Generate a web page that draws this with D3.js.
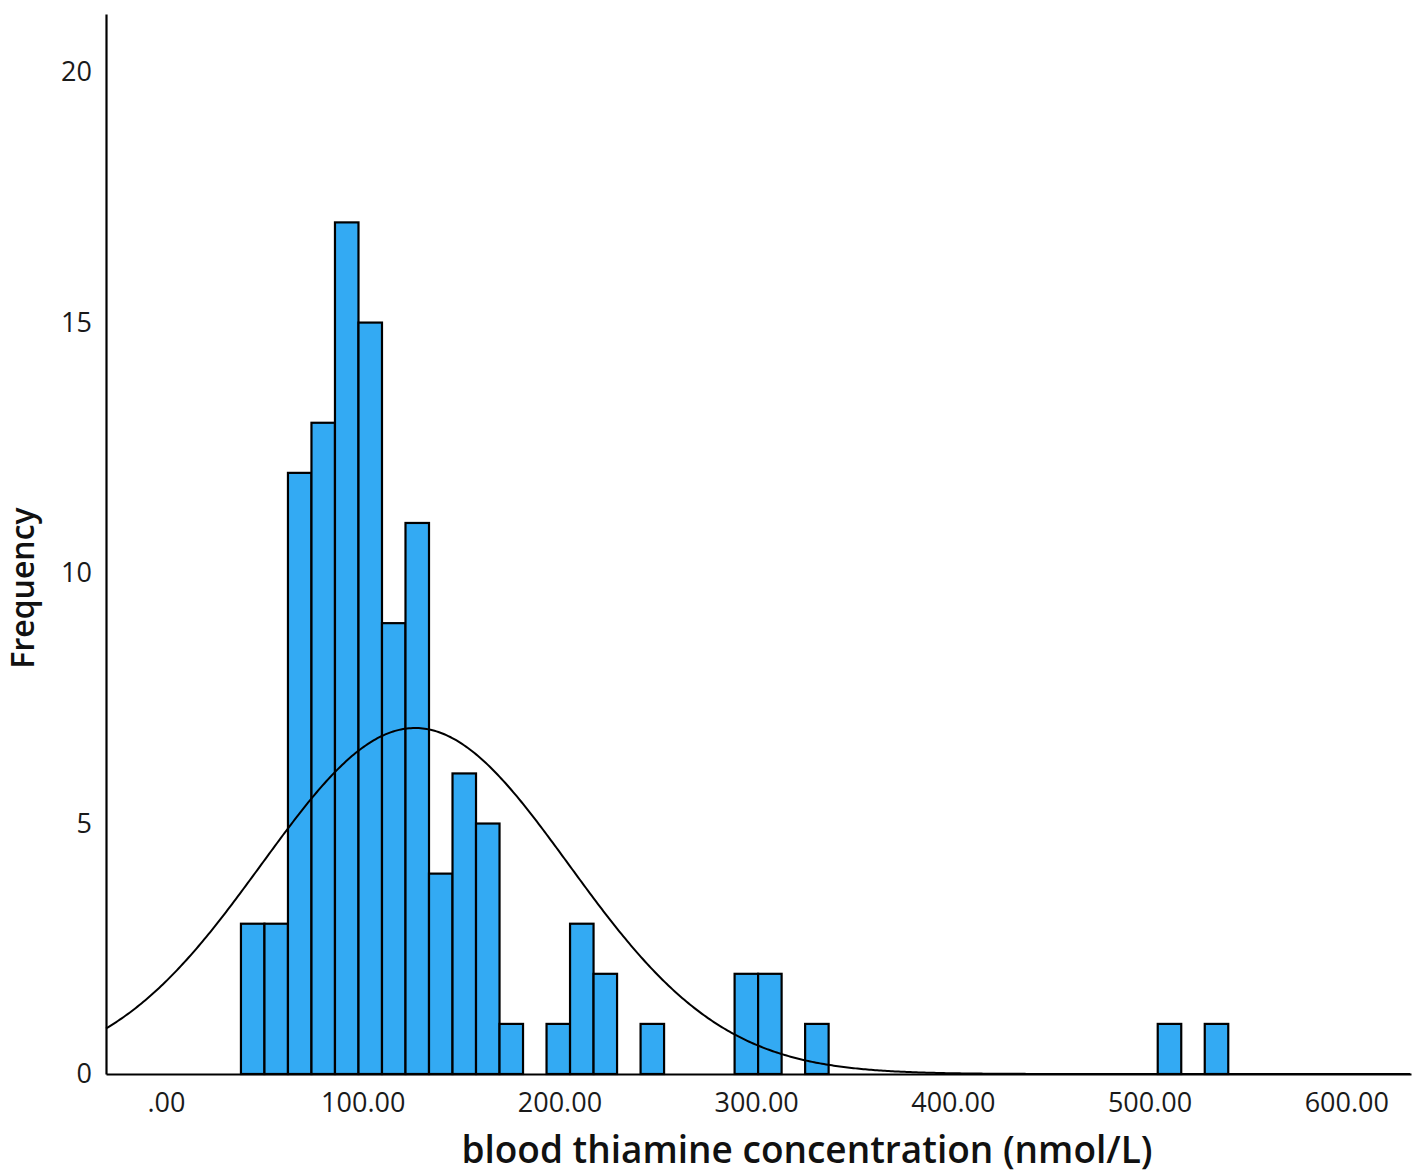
<!DOCTYPE html>
<html>
<head>
<meta charset="utf-8">
<script src="https://cdn.jsdelivr.net/npm/d3@7"></script>
<style>
  body { margin: 0; background: #fff; }
  svg { display: block; }
</style>
</head>
<body>
<svg width="1418" height="1175"></svg>
<script>
// histogram bins: lower edge of each non-empty bin and its count
const binStarts = [38.1, 50.05, 62.0, 73.95, 85.9, 97.85, 109.8, 121.75, 133.7, 145.65, 157.6, 169.55,
  193.45, 205.4, 217.35, 241.25, 289.05, 301.0, 324.9, 504.15, 528.05];
const binCounts = [3, 3, 12, 13, 17, 15, 9, 11, 4, 6, 5, 1,
  1, 3, 2, 1, 2, 2, 1, 1, 1];
const binWidth = 11.95;

// normal curve parameters
const fitMean = 126.6;
const fitSd = 78;
const fitN = 113;

const xTicks = [0, 100, 200, 300, 400, 500, 600];
const yTicks = [0, 5, 10, 15, 20];

const svg = d3.select("svg");
const plotLeft = 106, plotRight = 1411, plotTop = 14, plotBottom = 1074;

const x = d3.scaleLinear().domain([-30.5, 632.9]).range([plotLeft, plotRight]);
const y = d3.scaleLinear().domain([0, 21.16]).range([plotBottom, plotTop]);

const bins = binStarts.map((s, i) => ({ x0: s, x1: s + binWidth, n: binCounts[i] }));

// bars
svg.append("g")
  .selectAll("rect")
  .data(bins)
  .join("rect")
  .attr("x", d => x(d.x0))
  .attr("width", d => x(d.x1) - x(d.x0))
  .attr("y", d => y(d.n))
  .attr("height", d => y(0) - y(d.n))
  .attr("fill", "#33aaf3")
  .attr("stroke", "#000")
  .attr("stroke-width", 2.2);

// fitted normal curve
const curveX = d3.range(-30.5, 633, 1);
const dens = v => fitN * binWidth / (fitSd * Math.sqrt(2 * Math.PI)) *
  Math.exp(-0.5 * ((v - fitMean) / fitSd) ** 2);

svg.append("path")
  .datum(curveX)
  .attr("fill", "none")
  .attr("stroke", "#000")
  .attr("stroke-width", 2)
  .attr("d", d3.line().x(v => x(v)).y(v => y(dens(v))));

// axes
const xAxis = svg.append("g")
  .attr("transform", `translate(0,${plotBottom})`)
  .call(d3.axisBottom(x).tickValues(xTicks).tickSize(0).tickPadding(19)
    .tickFormat(v => v === 0 ? ".00" : d3.format(".2f")(v)));

const yAxis = svg.append("g")
  .attr("transform", `translate(${plotLeft},0)`)
  .call(d3.axisLeft(y).tickValues(yTicks).tickSize(0).tickPadding(14));

xAxis.select(".domain").attr("stroke", "#000").attr("stroke-width", 2.2);
yAxis.select(".domain").attr("stroke", "#000").attr("stroke-width", 2.2);

svg.selectAll(".tick text")
  .attr("font-family", "'Open Sans', sans-serif")
  .attr("font-size", 27)
  .attr("fill", "#1a1a1a");

// axis titles
svg.append("text")
  .attr("x", 807)
  .attr("y", 1163)
  .attr("text-anchor", "middle")
  .attr("font-family", "'Open Sans', sans-serif")
  .attr("font-weight", 600)
  .attr("font-size", 37)
  .attr("fill", "#111")
  .text("blood thiamine concentration (nmol/L)");

svg.append("text")
  .attr("transform", "translate(34,588) rotate(-90)")
  .attr("text-anchor", "middle")
  .attr("font-family", "'Open Sans', sans-serif")
  .attr("font-weight", 600)
  .attr("font-size", 32)
  .attr("fill", "#111")
  .text("Frequency");
</script>
</body>
</html>
